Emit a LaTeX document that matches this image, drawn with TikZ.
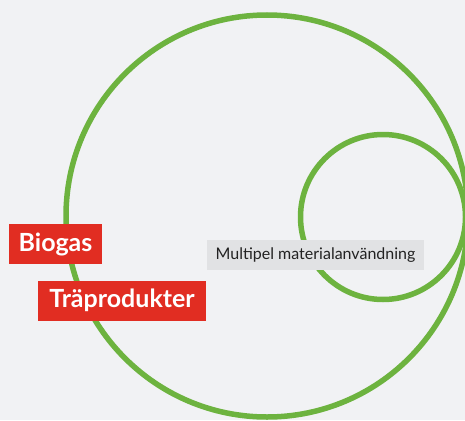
\documentclass[tikz,border=0pt]{standalone}
\usepackage{fontspec}
\setmainfont{Lato}
\usetikzlibrary{positioning}

\definecolor{bggrey}{HTML}{F1F2F4}
\definecolor{ringgreen}{HTML}{6DB33F}
\definecolor{tagred}{HTML}{E12D22}
\definecolor{labelgrey}{HTML}{E1E2E4}
\definecolor{textdark}{HTML}{222222}

\begin{document}
\begin{tikzpicture}[x=1pt,y=-1pt]

\tikzstyle{ring}=[circle,draw=ringgreen,line width=5.5pt,inner sep=0pt]
\tikzstyle{tag}=[rectangle,fill=tagred,text=white,font=\fontsize{25}{29}\selectfont\bfseries,inner sep=0pt,minimum height=40pt]
\tikzstyle{label}=[rectangle,fill=labelgrey,text=textdark,font=\fontsize{16}{19}\selectfont,inner sep=0pt,minimum height=30pt]

%background
\fill[bggrey] (0,0) rectangle (465,420);
\clip (0,0) rectangle (465,420);

%circles
\node[ring,minimum size=402pt] (outer) at (267,216) {};
\node[ring,minimum size=165pt] (inner) at (383,217) {};

%tags
\node[tag,minimum width=93pt] (biogas) at (55.5,244) {Biogas};
\node[tag,minimum width=168pt] (tra) at (122,300.5) {Träprodukter};

%label
\node[label,minimum width=217pt] (multi) at (315.5,255) {Multipel materialanvändning};

\end{tikzpicture}
\end{document}
